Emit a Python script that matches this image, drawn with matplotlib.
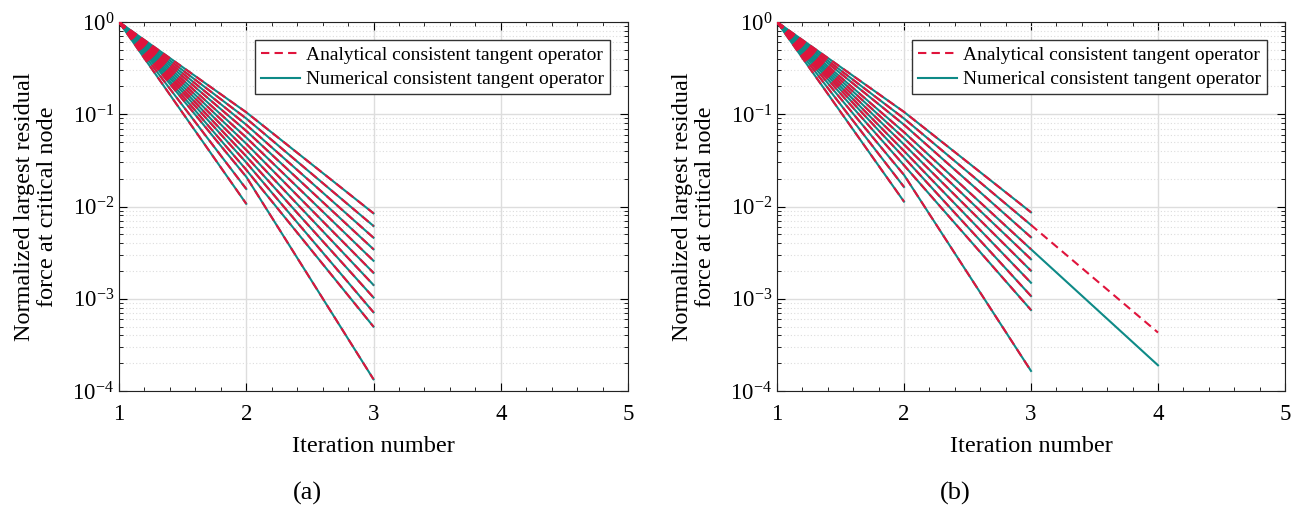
import numpy as np
import matplotlib.pyplot as plt
from matplotlib.ticker import LogLocator, MultipleLocator, NullFormatter

plt.rcParams['font.family'] = ['Liberation Serif', 'DejaVu Serif']
plt.rcParams['mathtext.fontset'] = 'stix'

# residuals at iterations 2 and 3 (lines that reach iteration 3)
a_iter2 = [0.105, 0.090, 0.077, 0.066, 0.056, 0.048, 0.041, 0.035, 0.030, 0.025, 0.021]
a_iter3 = [0.00844, 0.00615, 0.00459, 0.00344, 0.00258, 0.00191, 0.00141, 0.00103, 0.000713, 0.000498, 0.000134]
# lines that converge at iteration 2
a_stop2 = [0.0155, 0.0107]

b_iter2 = [0.106, 0.090, 0.077, 0.064, 0.055, 0.047, 0.040, 0.034, 0.028, 0.022]
b_iter3 = [0.00865, 0.0063, 0.00464, 0.00344, 0.00268, 0.00201, 0.00149, 0.00107, 0.000755, 0.000165]
b_stop2 = [0.0163, 0.0113]
# steps that need a 4th iteration in panel b (line index, residual at iteration 4)
b_ana_iter4 = (1, 0.00043)
b_num_iter4 = (3, 0.00019)

red = '#E0143C'
teal = '#0E8A87'
dash = (0, (4, 2.5))


def draw(ax, it2, it3, stop2, ana4=None, num4=None):
    for i in range(len(it2)):
        x = [1, 2, 3]
        y = [1.0, it2[i], it3[i]]
        if num4 is not None and i == num4[0]:
            ax.plot(x + [4], y + [num4[1]], color=teal, lw=1.5, zorder=2)
        else:
            ax.plot(x, y, color=teal, lw=1.5, zorder=2)
        if ana4 is not None and i == ana4[0]:
            ax.plot(x + [4], y + [ana4[1]], color=red, lw=1.5, ls=dash, zorder=3)
        else:
            ax.plot(x, y, color=red, lw=1.5, ls=dash, zorder=3)
    for v in stop2:
        ax.plot([1, 2], [1.0, v], color=teal, lw=1.5, zorder=2)
        ax.plot([1, 2], [1.0, v], color=red, lw=1.5, ls=dash, zorder=3)

    ax.set_yscale('log')
    ax.set_xlim(1, 5)
    ax.set_ylim(1e-4, 1)
    ax.xaxis.set_major_locator(MultipleLocator(1))
    ax.xaxis.set_minor_locator(MultipleLocator(0.2))
    ax.yaxis.set_major_locator(LogLocator(base=10, numticks=10))
    ax.yaxis.set_minor_locator(LogLocator(base=10, subs=np.arange(2, 10), numticks=20))
    ax.yaxis.set_minor_formatter(NullFormatter())
    ax.tick_params(which='both', direction='in', top=True, right=True, labelsize=16.5)
    ax.tick_params(which='major', length=6)
    ax.tick_params(which='minor', length=3)
    ax.tick_params(axis='x', pad=9)
    ax.grid(True, which='major', color='#dddddd', lw=1.0)
    ax.yaxis.grid(True, which='minor', color='#dddddd', ls=(0, (1, 2)), lw=0.8)
    ax.set_axisbelow(True)
    for s in ax.spines.values():
        s.set_color('#222222')
    ax.set_xlabel('Iteration number', fontsize=17.5, labelpad=8)
    ax.set_ylabel('Normalized largest residual\nforce at critical node', fontsize=17.5,
                  linespacing=1.15, labelpad=10)

    h1, = ax.plot([], [], color=red, lw=1.5, ls=dash)
    h2, = ax.plot([], [], color=teal, lw=1.5)
    leg = ax.legend([h1, h2], ['Analytical consistent tangent operator',
                               'Numerical consistent tangent operator'],
                    loc='upper right', fontsize=14, fancybox=False, framealpha=1,
                    edgecolor='#333333', handlelength=2.0, handletextpad=0.3,
                    borderpad=0.3, labelspacing=0.35, borderaxespad=0.95)
    leg.get_frame().set_linewidth(1.0)


fig = plt.figure(figsize=(13, 5.12), dpi=100)
ax1 = fig.add_axes([119 / 1300, 1 - 391 / 512, 509 / 1300, 369 / 512])
ax2 = fig.add_axes([777 / 1300, 1 - 391 / 512, 508 / 1300, 369 / 512])

draw(ax1, a_iter2, a_iter3, a_stop2)
draw(ax2, b_iter2, b_iter3, b_stop2, b_ana_iter4, b_num_iter4)

fig.text(307 / 1300, 1 - 493 / 512, '(a)', ha='center', va='center', fontsize=19)
fig.text(955 / 1300, 1 - 493 / 512, '(b)', ha='center', va='center', fontsize=19)

fig.savefig('out.png', dpi=100)
